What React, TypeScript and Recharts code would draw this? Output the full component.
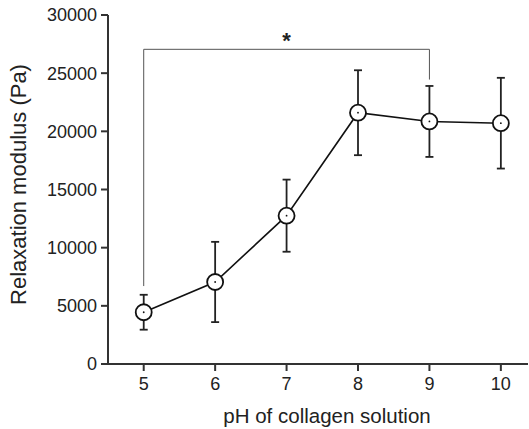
import { LineChart, Line, XAxis, YAxis, ErrorBar, ReferenceLine, ReferenceDot } from 'recharts';

// pH of collagen solution vs. relaxation modulus (mean ± SD)
const phLevels = [5, 6, 7, 8, 9, 10];
const modulusMean = [4450, 7050, 12750, 21600, 20850, 20700];
const modulusSd = [1500, 3450, 3100, 3650, 3050, 3900];

const yTicks = [0, 5000, 10000, 15000, 20000, 25000, 30000];

// significance bracket between pH 5 and pH 9
const bracketFrom = 5;
const bracketTo = 9;
const bracketTop = 27050;
const bracketLeftEnd = 6700;
const bracketRightEnd = 24450;

const data = phLevels.map((ph, i) => ({ ph, mean: modulusMean[i], err: modulusSd[i] }));

const FONT = '"Liberation Sans", Arial, sans-serif';

const OpenDot = (props: any) => {
    const { cx, cy, index } = props;
    return (
        <g key={`dot-${index}`}>
            <circle cx={cx} cy={cy} r={8} fill="#fff" stroke="#111" strokeWidth={1.8} />
            <circle cx={cx} cy={cy} r={0.9} fill="#111" />
        </g>
    );
};

export default function App() {
    return (
        <div style={{ width: 529, height: 429, background: '#fff', fontFamily: FONT }}>
            <style>{'body{margin:0}'}</style>
            <LineChart width={529} height={429} data={data} margin={{ top: 15, right: 1, left: 0, bottom: 0 }}>
                <XAxis
                    dataKey="ph"
                    type="number"
                    domain={[4.5, 10.38]}
                    ticks={phLevels}
                    allowDataOverflow
                    height={65}
                    stroke="#333"
                    strokeWidth={2}
                    tickSize={7}
                    tickMargin={6}
                    tick={{ fontSize: 18, fill: '#222', fontFamily: FONT }}
                    label={{
                        content: ({ viewBox }: any) => (
                            <text x={327} y={viewBox.y + 59} textAnchor="middle" fontSize={20.5} fill="#222" fontFamily={FONT}>
                                pH of collagen solution
                            </text>
                        ),
                    }}
                />
                <YAxis
                    type="number"
                    domain={[0, 30000]}
                    ticks={yTicks}
                    width={108}
                    stroke="#333"
                    strokeWidth={2}
                    tickSize={7}
                    tickMargin={4}
                    tick={{ fontSize: 18, fill: '#222', fontFamily: FONT }}
                    label={{
                        content: ({ viewBox }: any) => {
                            const cy = viewBox.y + viewBox.height / 2 - 5;
                            return (
                                <text x={26} y={cy} transform={`rotate(-90, 26, ${cy})`} textAnchor="middle" fontSize={22} fill="#222" fontFamily={FONT}>
                                    Relaxation modulus (Pa)
                                </text>
                            );
                        },
                    }}
                />
                <ReferenceLine segment={[{ x: bracketFrom, y: bracketLeftEnd }, { x: bracketFrom, y: bracketTop }]} stroke="#555" strokeWidth={1} />
                <ReferenceLine segment={[{ x: bracketFrom, y: bracketTop }, { x: bracketTo, y: bracketTop }]} stroke="#555" strokeWidth={1} />
                <ReferenceLine segment={[{ x: bracketTo, y: bracketTop }, { x: bracketTo, y: bracketRightEnd }]} stroke="#555" strokeWidth={1} />
                <ReferenceDot
                    x={(bracketFrom + bracketTo) / 2}
                    y={bracketTop}
                    r={0}
                    shape={(p: any) => (
                        <text x={p.cx} y={p.cy - 1} textAnchor="middle" fontSize={22} fontWeight="bold" fill="#222" fontFamily={FONT}>
                            *
                        </text>
                    )}
                />
                <Line
                    dataKey="mean"
                    stroke="#111"
                    strokeWidth={1.6}
                    dot={OpenDot}
                    activeDot={false}
                    isAnimationActive={false}
                >
                    <ErrorBar dataKey="err" direction="y" width={4} stroke="#222" strokeWidth={1.8} isAnimationActive={false} />
                </Line>
            </LineChart>
        </div>
    );
}
